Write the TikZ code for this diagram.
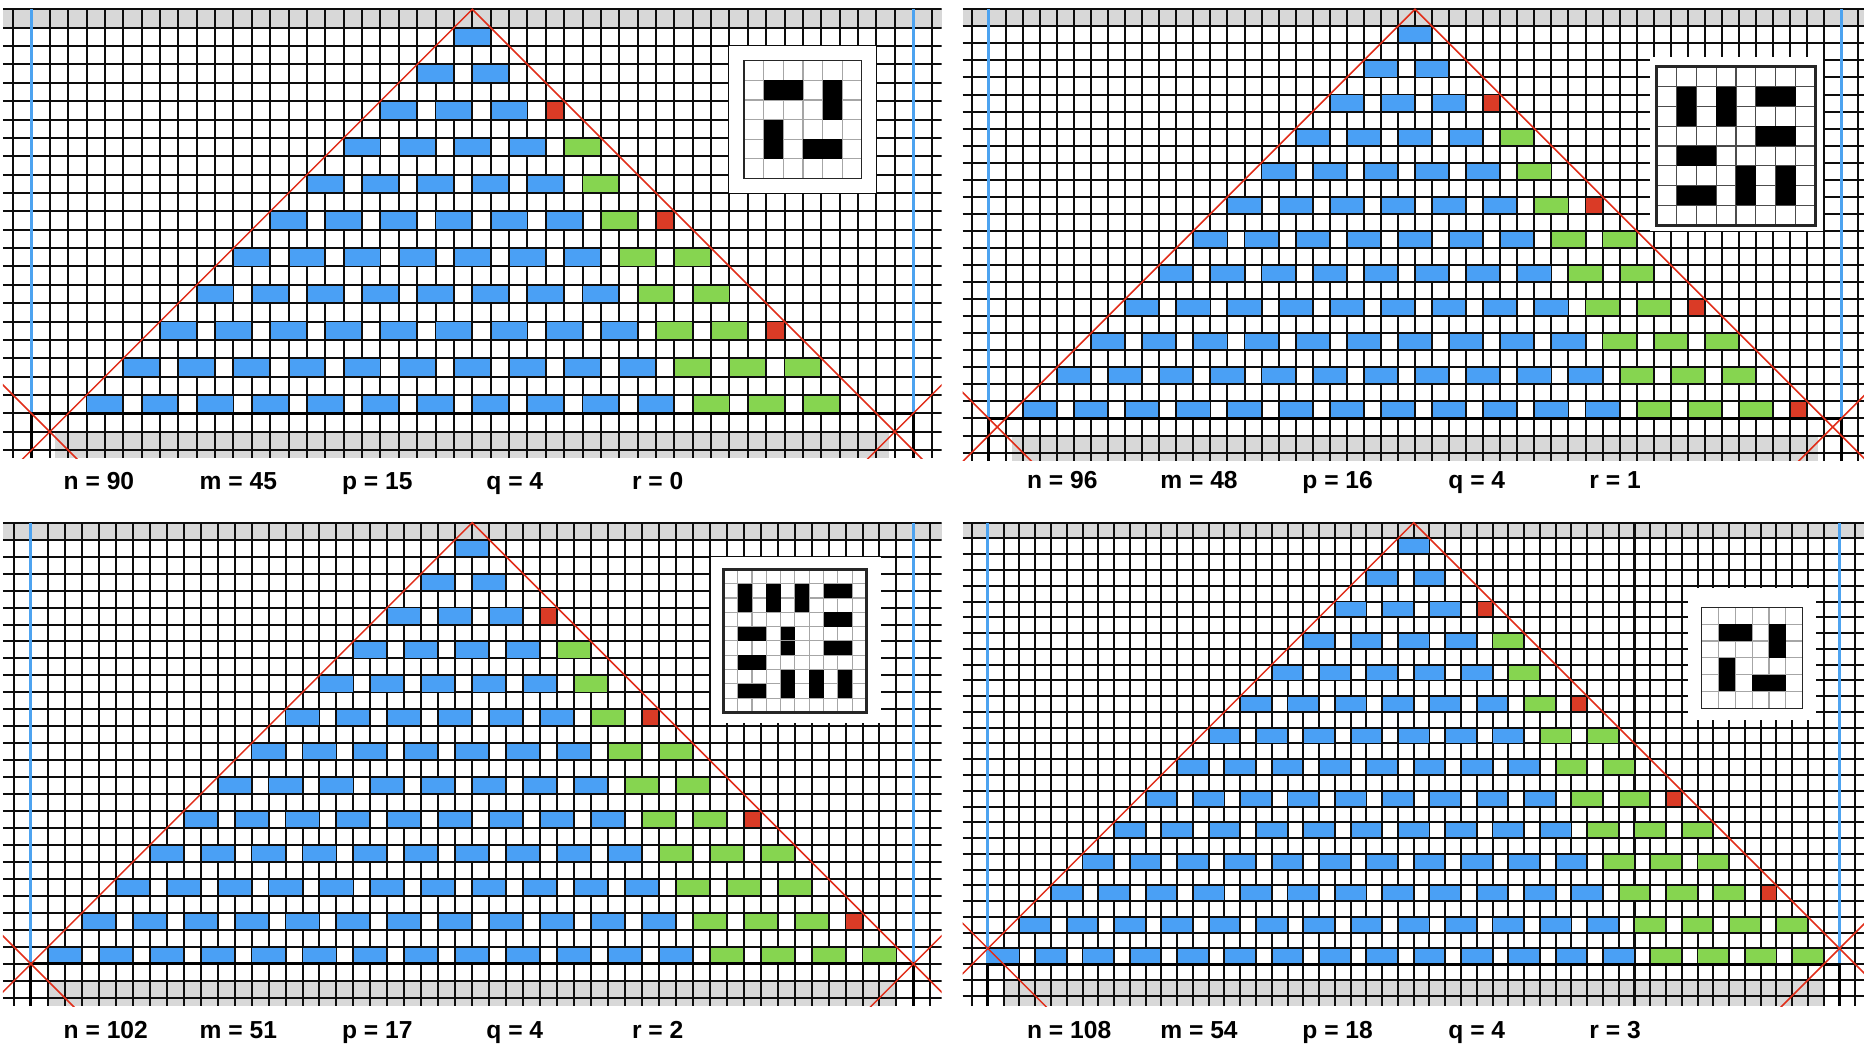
\documentclass[tikz,border=0pt]{standalone}
\usepackage{fontspec}
\setmainfont{Liberation Sans}
\definecolor{bandgray}{RGB}{216,216,216}
\definecolor{brblue}{RGB}{74,160,245}
\definecolor{brgreen}{RGB}{134,213,80}
\definecolor{brred}{RGB}{218,59,38}
\definecolor{vblue}{RGB}{77,163,240}
\definecolor{xred}{RGB}{225,45,25}
\tikzset{
  gridln/.style={draw=black!95, line width=1.0pt},
  brick/.style={draw=black!95, line width=0.9pt},
  vline/.style={draw=vblue, line width=1.5pt},
  baseln/.style={draw=black, line width=1.5pt},
  redln/.style={draw=xred, line width=0.75pt},
  lbl/.style={anchor=base west, font=\bfseries\fontsize{12.3}{14}\selectfont, inner sep=0pt},
}
\newcommand{\insetbox}[7]{%
  \fill[white] (#1,#2) rectangle (#3,#4);
  \pgfmathsetmacro{\insc}{#7/\inN}
  \begin{scope}[shift={(#5,#6)}, scale=\insc]
    \foreach \q in {1,...,\inNm} {
      \draw[draw=\inlc, line width=0.6pt] (\q,0) -- (\q,\inN);
      \draw[draw=\inlc, line width=0.6pt] (0,\q) -- (\inN,\q);
    }
    \foreach \da/\db/\dw/\dh in \dominoes {\fill[black] (\da,\db) rectangle ++(\dw,\dh);}
    \insetextra
    \draw[draw=black!85, line width=\inbw] (0,0) rectangle (\inN,\inN);
  \end{scope}}
\newcommand{\drawpanel}{%
\begin{scope}[shift={(\pax,\pay)}, scale=\pc]
  \fill[bandgray] (-\EL,0) rectangle (\ER,1);
  \fill[bandgray] (-\Gx,\Gt) rectangle (\Gx,\B);
  \begin{scope}
    \clip (-\EL,-0.1) rectangle (\ER,\B);
    \foreach \k in {-30,...,30} {\draw[gridln] (\k,0) -- (\k,\B);}
    \foreach \j in {0,...,32} {\draw[gridln] (-\EL,\j) -- (\ER,\j);}
  \end{scope}
  \pgfmathtruncatemacro{\rmax}{\R-1}
  \foreach \i in {0,...,\rmax} {
    \pgfmathtruncatemacro{\nb}{floor((4*\i+3)/3)}
    \pgfmathtruncatemacro{\thr}{\nb-floor(\i/3)}
    \pgfmathtruncatemacro{\nbm}{\nb-1}
    \foreach \k in {0,...,\nbm} {
      \pgfmathtruncatemacro{\xa}{3*\k-2*\i-1}
      \ifnum\k<\thr\relax \def\bc{brblue}\else\def\bc{brgreen}\fi
      \filldraw[brick, fill=\bc] (\xa,2*\i+1) rectangle ++(2,1);
    }
    \pgfmathtruncatemacro{\md}{mod(\i,3)}
    \ifnum\md=2\relax \filldraw[brick, fill=brred] (2*\i,2*\i+1) rectangle ++(1,1);\fi
  }
  \insetcontent
  \draw[vline] (-\Bl,0) -- (-\Bl,2*\R);
  \draw[vline] (\Bl,0) -- (\Bl,2*\R);
  \draw[baseln] (-\Bl,\B) -- (-\Bl,2*\R) -- (\Bl,2*\R) -- (\Bl,\B);
  \begin{scope}
    \clip (-\EL,-0.1) rectangle (\ER,\B);
    \draw[redln] (-40,40) -- (0,0) -- (40,40);
    \draw[redln] ({-\Xc-20},{\Xc-20}) -- ({-\Xc+20},{\Xc+20});
    \draw[redln] ({\Xc+20},{\Xc-20}) -- ({\Xc-20},{\Xc+20});
  \end{scope}
\end{scope}}
\begin{document}
\begin{tikzpicture}[x=0.5pt, y=-0.5pt]
\useasboundingbox (0,0) rectangle (1874,1058);
\fill[white] (0,0) rectangle (1874,1058);
% ---------- panel 1
\def\pax{472.3}\def\pay{9.3}\def\pc{18.37}\def\R{11}\def\EL{25.55}\def\ER{25.55}\def\B{24.43}
\def\Bl{24}\def\Xc{23}\def\Gt{23}\def\Gx{22.7}
\def\inN{6}\def\inNm{5}\def\inlc{black!35}\def\inbw{0.7pt}\def\insetextra{}
\def\dominoes{1/1/2/1,4/1/1/2,1/3/1/2,3/4/2/1}
\def\insetcontent{\insetbox{14}{2}{22}{10}{14.8}{2.8}{6.4}}
\drawpanel
% ---------- panel 2
\def\pax{1415}\def\pay{9.3}\def\pc{17.05}\def\R{12}\def\EL{26.53}\def\ER{26.33}\def\B{26.47}
\def\Bl{25}\def\Xc{24.5}\def\Gt{25}\def\Gx{23.65}
\def\inN{8}\def\inNm{7}\def\inlc{black!70}\def\inbw{1.5pt}\def\insetextra{}
\def\dominoes{1/1/1/2,3/1/1/2,5/1/2/1,5/3/2/1,1/4/2/1,4/5/1/2,6/5/1/2,1/6/2/1}
\def\insetcontent{\insetbox{13.8}{2.8}{23.9}{13.0}{14.18}{3.37}{9.3}}
\drawpanel
% ---------- panel 3
\def\pax{472.2}\def\pay{522.7}\def\pc{16.97}\def\R{13}\def\EL{27.65}\def\ER{27.66}\def\B{28.48}
\def\Bl{26}\def\Xc{26}\def\Gt{27}\def\Gx{25}
\def\inN{10}\def\inNm{9}\def\inlc{black!35}\def\inbw{1.5pt}\def\insetextra{\draw[black!40, line width=0.5pt] (4,5) -- (5,5);}
\def\dominoes{1/1/1/2,3/1/1/2,5/1/1/2,7/1/2/1,7/3/2/1,1/4/2/1,4/4/1/2,7/5/2/1,1/6/2/1,4/7/1/2,6/7/1/2,8/7/1/2,1/8/2/1}
\def\insetcontent{\insetbox{14.1}{2.0}{24.1}{11.8}{14.8}{2.75}{8.43}}
\drawpanel
% ---------- panel 4
\def\pax{1413.7}\def\pay{522.7}\def\pc{15.77}\def\R{14}\def\EL{28.6}\def\ER{28.55}\def\B{30.65}
\def\Bl{27}\def\Xc{27}\def\Gt{29}\def\Gx{26}
\def\inN{6}\def\inNm{5}\def\inlc{black!35}\def\inbw{0.7pt}\def\insetextra{}
\def\dominoes{1/1/2/1,4/1/1/2,1/3/1/2,3/4/2/1}
\def\insetcontent{\insetbox{17.4}{4.16}{25.5}{12.5}{18.26}{5.37}{6.4}}
\drawpanel
% ---------- labels
\node[lbl] (n1) at (63.3,490) {n = 90};
\node[lbl] (m1) at (199.3,490) {m = 45};
\node[lbl] (p1) at (341.7,490) {p = 15};
\node[lbl] (q1) at (486,490) {q = 4};
\node[lbl] (r1) at (631.7,490) {r = 0};
\node[lbl] (n2) at (1026.7,489) {n = 96};
\node[lbl] (m2) at (1160,489) {m = 48};
\node[lbl] (p2) at (1302,489) {p = 16};
\node[lbl] (q2) at (1448,489) {q = 4};
\node[lbl] (r2) at (1589,489) {r = 1};
\node[lbl] (n3) at (63.3,1038.5) {n = 102};
\node[lbl] (m3) at (199.3,1038.5) {m = 51};
\node[lbl] (p3) at (341.7,1038.5) {p = 17};
\node[lbl] (q3) at (486,1038.5) {q = 4};
\node[lbl] (r3) at (631.7,1038.5) {r = 2};
\node[lbl] (n4) at (1026.7,1038.5) {n = 108};
\node[lbl] (m4) at (1160,1038.5) {m = 54};
\node[lbl] (p4) at (1302,1038.5) {p = 18};
\node[lbl] (q4) at (1448,1038.5) {q = 4};
\node[lbl] (r4) at (1589,1038.5) {r = 3};
\end{tikzpicture}
\end{document}
